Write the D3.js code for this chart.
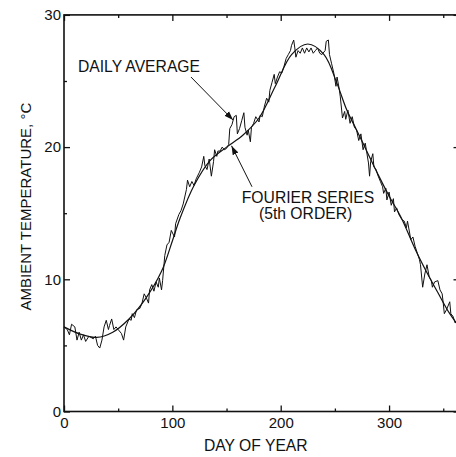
<!DOCTYPE html>
<html>
<head>
<meta charset="utf-8">
<script src="https://cdn.jsdelivr.net/npm/d3@7/dist/d3.min.js"></script>
<style>
  html, body { margin: 0; padding: 0; background: #fff; }
  svg { display: block; }
  text { font-family: "Liberation Sans", Arial, Helvetica, sans-serif; fill: #111; }
</style>
</head>
<body>
<svg id="chart" width="456" height="457"></svg>
<script>
// ---- data ----
const dailyDays = [0,3,5,7,10,12,14,16,18,20,23,25,27,29,31,33,35,37,39,41,42,44,46,48,50,53,55,57,60,62,63,65,67,70,72,74,76,78,79,81,83,85,87,88,90,91,93,95,97,99,102,103,106,108,110,113,114,116,118,120,122,125,127,129,130,132,134,136,138,139,141,142,144,146,148,150,152,153,155,157,159,160,162,164,166,167,169,170,172,173,175,177,180,181,183,185,187,189,190,192,194,195,197,199,201,203,205,207,209,210,212,213,214,216,218,220,222,224,226,228,230,232,234,236,238,241,242,244,245,247,249,251,252,254,255,257,259,260,262,264,266,268,270,272,274,276,278,279,281,282,283,285,286,288,290,292,294,295,297,298,300,302,304,305,307,309,312,314,316,317,319,320,322,324,326,328,329,331,333,335,337,339,340,342,345,347,349,350,351,353,354,356,357,359,361,363,365];
const dailyTemps = [6.4,6.2,5.8,6.6,6.4,5.4,6.0,5.4,5.8,5.3,5.7,5.6,5.5,5.7,5.0,4.8,5.4,6.4,6.9,6.2,6.5,7.0,6.2,6.4,6.2,5.9,5.4,6.4,7.0,6.9,7.4,7.1,7.7,7.8,8.2,8.9,8.6,8.2,9.2,9.6,9.1,9.8,9.4,10.1,9.2,9.9,11.8,12.6,12.8,13.7,13.2,14.2,14.9,15.2,15.7,16.8,17.5,17.0,17.4,17.1,17.6,18.1,18.5,19.3,18.6,18.3,19.1,17.8,18.9,19.8,19.3,19.7,19.7,20.0,19.8,19.9,20.2,21.4,21.7,22.3,22.4,21.0,21.4,22.0,22.6,21.5,20.9,21.3,20.4,21.5,21.8,22.3,21.9,22.4,22.3,23.1,23.7,23.4,24.3,24.9,25.5,24.8,25.3,25.7,25.6,26.1,26.7,27.0,27.3,27.7,28.1,27.5,26.8,27.3,27.1,27.5,27.1,27.5,27.2,27.5,27.1,27.3,27.5,27.1,27.0,27.3,28.0,28.1,27.0,26.3,25.6,24.6,25.3,24.4,23.8,22.2,22.7,22.1,22.8,21.8,22.3,21.5,21.3,20.5,21.0,19.8,20.3,19.8,18.8,17.8,18.9,19.5,18.5,18.3,17.8,17.4,17.0,16.5,16.9,16.0,16.6,15.6,16.1,15.1,15.4,14.9,14.5,14.4,13.9,14.4,13.5,13.0,13.2,12.5,12.0,11.5,11.1,9.4,10.4,11.1,10.2,9.9,9.4,9.8,9.9,9.2,8.9,8.2,7.4,7.7,7.9,8.3,7.4,7.2,6.7,7.0,6.6];

const fitDays  = [0,15,30,45,60,75,90,100,107,120,135,150,165,180,195,210,225,240,252,261,270,280,290,300,311,324,335,345,356,365];
const fitTemps = [6.4,5.85,5.6,6.0,7.0,8.5,10.6,12.9,14.6,17.1,19.0,20.0,20.9,22.2,24.6,27.0,27.8,27.0,24.8,22.8,21.3,19.6,17.9,16.3,14.7,12.3,10.5,9.0,7.4,6.4];

const xMajorTicks = [0,100,200,300];
const xMinorTicks = [50,150,250,350];
const yMajorTicks = [0,10,20,30];
const yMinorTicks = [5,15,25];
const xTitle = "DAY OF YEAR";
const yTitle = "AMBIENT TEMPERATURE, °C";

// ---- layout ----
const svg = d3.select("#chart");
const x = d3.scaleLinear().domain([0,365]).range([64,459.5]);
const y = d3.scaleLinear().domain([0,30]).range([411.5,14.9]);
const pLeft = x.range()[0], pRight = x.range()[1];
const pBottom = y.range()[0], pTop = y.range()[1];
const FS = 15, FS2 = 15.7;

// arrow marker
const defs = svg.append("defs");
defs.append("marker")
  .attr("id","arr").attr("viewBox","0 0 10 10")
  .attr("refX",10).attr("refY",5)
  .attr("markerWidth",9).attr("markerHeight",9)
  .attr("markerUnits","userSpaceOnUse")
  .attr("orient","auto")
  .append("path").attr("d","M0,1.5 L10,5 L0,8.5 Z").attr("fill","#111");

function styleAxis(g){
  g.select(".domain").remove();
  g.selectAll("line").attr("stroke","#111").attr("stroke-width",1.3);
  g.selectAll("text").attr("font-size",FS).attr("fill","#111")
    .style("font-family","'Liberation Sans', Arial, sans-serif");
}
svg.append("g").attr("transform",`translate(0,${pBottom})`)
  .call(d3.axisBottom(x).tickValues(xMajorTicks).tickSize(-6).tickPadding(6).tickFormat(d3.format("d")))
  .call(styleAxis);
svg.append("g").attr("transform",`translate(0,${pBottom})`)
  .call(d3.axisBottom(x).tickValues(xMinorTicks).tickSize(-3).tickFormat(""))
  .call(styleAxis);
svg.append("g").attr("transform",`translate(0,${pTop})`)
  .call(d3.axisTop(x).tickValues(xMajorTicks).tickSize(-6).tickFormat(""))
  .call(styleAxis);
svg.append("g").attr("transform",`translate(0,${pTop})`)
  .call(d3.axisTop(x).tickValues(xMinorTicks).tickSize(-3).tickFormat(""))
  .call(styleAxis);
svg.append("g").attr("transform",`translate(${pLeft},0)`)
  .call(d3.axisLeft(y).tickValues(yMajorTicks).tickSize(-6).tickPadding(3).tickFormat(d3.format("d")))
  .call(styleAxis);
svg.append("g").attr("transform",`translate(${pLeft},0)`)
  .call(d3.axisLeft(y).tickValues(yMinorTicks).tickSize(-3).tickFormat(""))
  .call(styleAxis);
svg.append("g").attr("transform",`translate(${pRight},0)`)
  .call(d3.axisRight(y).tickValues(yMajorTicks).tickSize(-6).tickFormat(""))
  .call(styleAxis);
svg.append("g").attr("transform",`translate(${pRight},0)`)
  .call(d3.axisRight(y).tickValues(yMinorTicks).tickSize(-3).tickFormat(""))
  .call(styleAxis);

// frame
svg.append("rect")
  .attr("x",pLeft).attr("y",pTop).attr("width",pRight-pLeft).attr("height",pBottom-pTop)
  .attr("fill","none").attr("stroke","#111").attr("stroke-width",1.6);

// fitted curve
const fitLine = d3.line().x((d,i)=>x(fitDays[i])).y(d=>y(d)).curve(d3.curveCatmullRom.alpha(0.5));
svg.append("path").datum(fitTemps).attr("d",fitLine)
  .attr("fill","none").attr("stroke","#111").attr("stroke-width",1.2);

// daily average
const dLine = d3.line().x((d,i)=>x(dailyDays[i])).y(d=>y(d));
svg.append("path").datum(dailyTemps).attr("d",dLine)
  .attr("fill","none").attr("stroke","#111").attr("stroke-width",1).attr("stroke-linejoin","miter");

// annotations
svg.append("text").attr("x",x(12.9)).attr("y",y(25.7)).attr("font-size",FS2).text("DAILY AVERAGE");
svg.append("line").attr("x1",x(117.2)).attr("y1",y(25.3)).attr("x2",x(156)).attr("y2",y(22.05))
  .attr("stroke","#111").attr("stroke-width",1).attr("marker-end","url(#arr)");
svg.append("text").attr("x",x(225.2)).attr("y",y(15.77)).attr("font-size",FS2).attr("text-anchor","middle").text("FOURIER SERIES");
svg.append("text").attr("x",x(223)).attr("y",y(14.56)).attr("font-size",FS2).attr("text-anchor","middle").text("(5th ORDER)");
svg.append("line").attr("x1",x(173.5)).attr("y1",y(17.0)).attr("x2",x(154.6)).attr("y2",y(20.1))
  .attr("stroke","#111").attr("stroke-width",1).attr("marker-end","url(#arr)");

// axis titles
svg.append("text").attr("x",(pLeft + x(354))/2).attr("y",451).attr("font-size",FS2)
  .attr("text-anchor","middle").text(xTitle);
svg.append("text").attr("transform",`translate(31,${y(15.5)}) rotate(-90)`).attr("font-size",FS)
  .attr("text-anchor","middle").text(yTitle);
</script>
</body>
</html>
